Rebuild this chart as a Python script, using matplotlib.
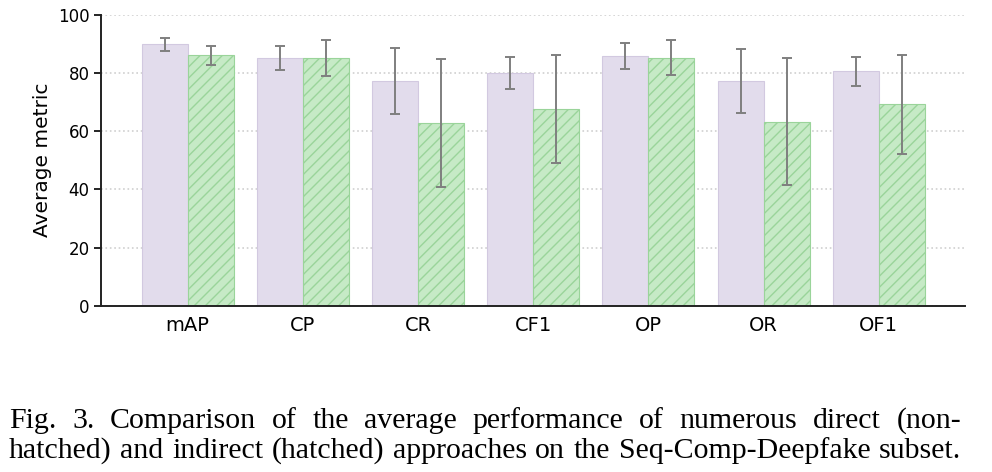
import matplotlib
matplotlib.use("Agg")
import matplotlib.pyplot as plt
import numpy as np

metrics = ["mAP", "CP", "CR", "CF1", "OP", "OR", "OF1"]
direct_mean = [89.8, 85.2, 77.2, 79.9, 85.7, 77.2, 80.6]
direct_err = [2.2, 4.1, 11.3, 5.5, 4.4, 11.0, 5.0]
indirect_mean = [86.0, 85.2, 62.8, 67.6, 85.2, 63.2, 69.2]
indirect_err = [3.3, 6.2, 22.0, 18.5, 6.0, 21.8, 17.0]
yticks = [0, 20, 40, 60, 80, 100]

caption_lines = [
    "Fig. 3.  Comparison of the average performance of numerous direct (non-",
    "hatched) and indirect (hatched) approaches on the Seq-Comp-Deepfake subset.",
]

fig = plt.figure(figsize=(9.92, 4.72), dpi=100)
ax = fig.add_axes([0.102, 0.352, 0.871, 0.617])

x = np.arange(len(metrics))
w = 0.4
ekw = dict(ecolor="#7f7f7f", elinewidth=1.4, capsize=3.5, capthick=1.4)
ax.bar(x - w / 2, direct_mean, w, yerr=direct_err, color="#e2dcec",
       edgecolor="#d2c9e0", linewidth=0.8, error_kw=ekw, zorder=2)
ax.bar(x + w / 2, indirect_mean, w, yerr=indirect_err, color="#c6eac6",
       edgecolor="#9ad49a", linewidth=0.8, hatch="///", error_kw=ekw, zorder=2)

ax.set_xlim(-0.75, 6.75)
ax.set_ylim(0, 100)
ax.set_xticks(x, metrics, fontsize=14)
ax.set_yticks(yticks)
ax.tick_params(axis="x", length=0, pad=7)
ax.tick_params(axis="y", labelsize=12, length=5, width=1.2)
ax.set_ylabel("Average metric", fontsize=14.5)
ax.yaxis.grid(True, linestyle=":", color="#d0d0d0", linewidth=1.2, zorder=0)
ax.set_axisbelow(True)
for s in ["top", "right"]:
    ax.spines[s].set_visible(False)
for s in ["left", "bottom"]:
    ax.spines[s].set_linewidth(1.4)
    ax.spines[s].set_color("#222222")

# justified caption: place each word so the line fills x0..x1 pixels
renderer = fig.canvas.get_renderer()
x0, x1 = 9, 961
baselines = [428, 458]
W, H = fig.bbox.width, fig.bbox.height
for line, yb in zip(caption_lines, baselines):
    words = line.replace(".  ", ". ").split(" ")
    texts = [fig.text(0, 1 - yb / H, wd, family="Liberation Serif", fontsize=21.5,
                      ha="left", va="baseline") for wd in words]
    widths = [t.get_window_extent(renderer).width for t in texts]
    gap = (x1 - x0 - sum(widths)) / (len(words) - 1)
    pos = x0
    for t, wd in zip(texts, widths):
        t.set_x(pos / W)
        pos += wd + gap

fig.savefig("out.png", dpi=100)
